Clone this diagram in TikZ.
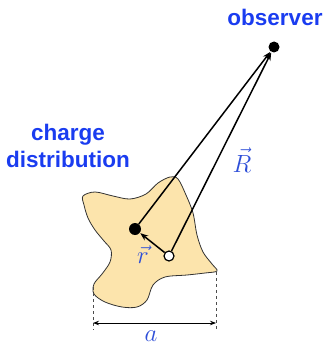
\documentclass[tikz,border=0pt]{standalone}
\usepackage{fontspec}
\setsansfont{Liberation Sans}
\usetikzlibrary{arrows.meta}
\definecolor{lbl}{HTML}{1A3CF0}
\definecolor{mlbl}{HTML}{2E4FD8}
\definecolor{blobfill}{HTML}{FCE4AC}
\tikzset{
  lab/.style={font=\sffamily\bfseries\fontsize{22.5}{27}\selectfont, text=lbl, align=center},
  mlab/.style={text=mlbl, font=\fontsize{24}{26}\selectfont},
  vec/.style={line width=1.5pt, -{Stealth[length=8pt,width=6pt]}, shorten >=0.5pt},
  dim/.style={dashed, line width=0.7pt, draw=black!70},
}
\begin{document}
\begin{tikzpicture}[x=1pt,y=-1pt]
\useasboundingbox (0,0) rectangle (324,345);
% blob
\draw[fill=blobfill, draw=black!80, line width=0.8pt]
  plot[smooth cycle, tension=0.55] coordinates {
  (83,196) (95,192) (113,196) (130,199) (146,194) (158,183) (170,177) (178,179)
  (186,195) (193,213) (197,235) (203,252) (212,264) (217,271) (205,273) (187,275)
  (165,277) (153,285) (147,300) (137,307) (122,307) (105,302) (94,294) (94,284)
  (102,274) (110,262) (111,250) (104,241) (95,230) (88,218) (84,205)};
% points
\node[circle, fill=black, inner sep=0pt, minimum size=11pt] (obs) at (274,47) {};
\node[circle, fill=black, inner sep=0pt, minimum size=12pt] (q) at (135,229) {};
\node[circle, draw=black, fill=white, line width=1.2pt, inner sep=0pt, minimum size=10pt] (o) at (169,256) {};
% vectors
\draw[vec] (q) -- (obs);
\draw[vec] (o) -- (obs);
\draw[vec] (o) -- (q);
% labels
\node[lab] (tobs) at (275,17) {observer};
\node[lab] (tcd) at (68,146) {charge\\distribution};
\node[mlab] (tR) at (242,160) {$\vec{R}$};
\node[mlab] (tr) at (143,255) {$\vec{r}$};
% dimension
\coordinate (dl1) at (93,287);
\coordinate (dl2) at (93,330);
\coordinate (dr1) at (216,272);
\coordinate (dr2) at (216,330);
\draw[dim] (dl1) -- (dl2);
\draw[dim] (dr1) -- (dr2);
\coordinate (al) at (93,323);
\coordinate (ar) at (216,323);
\draw[line width=0.8pt, {Stealth[length=6pt,width=4.5pt]}-{Stealth[length=6pt,width=4.5pt]}] (al) -- (ar);
\node[mlab] (ta) at (151,336) {$a$};
\end{tikzpicture}
\end{document}
